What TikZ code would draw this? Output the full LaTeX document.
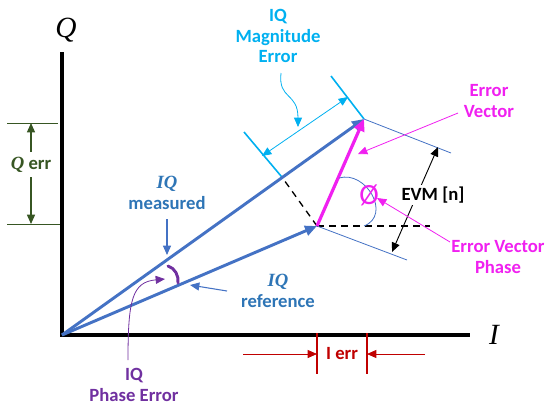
\documentclass[tikz,border=0pt]{standalone}
\usepackage{fontspec}
\setmainfont{Carlito}
\newfontfamily\serifit{Liberation Serif}
\usetikzlibrary{arrows.meta,calc}
\definecolor{vblue}{HTML}{4472C4}
\definecolor{lblue}{HTML}{2E75B6}
\definecolor{cyanc}{HTML}{00B0F0}
\definecolor{magc}{HTML}{F020F0}
\definecolor{purp}{HTML}{7030A0}
\definecolor{grn}{HTML}{375623}
\definecolor{redc}{HTML}{C00000}
\begin{document}
\begin{tikzpicture}[x=0.75pt,y=-0.75pt,
  lab/.style={font=\bfseries\fontsize{14}{15.5}\selectfont, align=center, inner sep=0pt},
  axislab/.style={font=\serifit\itshape\fontsize{22}{24}\selectfont, inner sep=0pt},
  vec/.style={draw=vblue, line width=2.2pt, -{Triangle[length=9pt,width=7.5pt]}},
  hair/.style={line width=0.6pt},
  tip/.style={-{Triangle[length=7pt,width=6pt]}},
  dtip/.style={{Triangle[length=7pt,width=6pt]}-{Triangle[length=7pt,width=6pt]}},
]
\useasboundingbox (0,0) rectangle (546,405);
\coordinate (O) at (62,335);
\coordinate (M) at (364,119);
\coordinate (R) at (317,226);
\coordinate (F) at ($(O)!(R)!(M)$);
\coordinate (Qtop) at (62,52);
\coordinate (Iend) at (470,335);

% axes
\draw[line width=3pt] (Qtop) -- (O) -- (Iend);
\node[axislab] (Q) at (66,30) {Q};
\node[axislab] (I) at (494,335) {I};

% magnitude error
\coordinate (Mt) at (331,76);
\coordinate (Ft) at (244,132);
\draw[cyanc, line width=1.2pt] (Mt) -- (M);
\draw[cyanc, line width=1.2pt] (Ft) -- (F);
\coordinate (D1) at (262,156);
\coordinate (D2) at (348,97);
\draw[cyanc, hair, dtip] (D1) -- (D2);
\node[lab, text=cyanc] (mag) at (278,36) {IQ\\Magnitude\\Error};
\coordinate (magc) at (281,73);
\coordinate (magtip) at (298,127);
\draw[cyanc, hair, tip] (magc) .. controls (278,100) and (298,92) .. (magtip);

% dashed construction lines
\coordinate (H) at (430,226);
\draw[line width=1pt, dash pattern=on 5pt off 4pt] (R) -- (F);
\draw[line width=1pt, dash pattern=on 5pt off 4pt] (R) -- (H);

% EVM extension lines
\coordinate (Me) at (451,153);
\coordinate (Re) at (407,260);
\draw[vblue, hair] (M) -- (Me);
\draw[vblue, hair] (R) -- (Re);

% vectors
\draw[vec] (O) -- (M);
\draw[vec] (O) -- (R);
\draw[magc, line width=2.4pt, -{Triangle[length=9pt,width=8pt]}] (R) -- (M);

% phase angle
\coordinate (A1) at (339,178);
\coordinate (A2) at (364,226);
\draw[vblue, hair] (A1) .. controls (366,170) and (392,215) .. (A2);
\node[text=magc, font=\fontsize{22}{22}\selectfont, inner sep=0pt] (phi) at (369,195) {Ø};

% EVM
\coordinate (E1) at (438,147);
\coordinate (E2) at (392,252);
\draw[line width=0.7pt, dtip] (E1) -- (E2);
\node[lab, fill=white, inner sep=1.5pt] (evm) at (433,195) {EVM [n]};

% error vector label
\node[lab, text=magc] (ev) at (489,101) {Error\\Vector};
\coordinate (evs) at (458,113);
\coordinate (evt) at (358,154);
\draw[magc, hair, tip] (evs) -- (evt);

% error vector phase
\node[lab, text=magc] (evp) at (498,257) {Error Vector\\Phase};
\coordinate (evps) at (450,242);
\coordinate (evpt) at (377,198);
\draw[magc, hair, tip] (evps) -- (evpt);

% IQ measured / reference labels
\node[lab, text=lblue] (meas) at (167,193) {{\serifit\itshape IQ}\\measured};
\coordinate (ms) at (167,219);
\coordinate (mt) at (167,255);
\draw[vblue, line width=0.8pt, tip] (ms) -- (mt);
\node[lab, text=lblue] (ref) at (278,291) {{\serifit\itshape IQ}\\reference};
\coordinate (rs) at (227,291);
\coordinate (rt) at (190,285);
\draw[vblue, line width=0.8pt, tip] (rs) -- (rt);

% IQ phase error
\coordinate (P1) at (168,266);
\coordinate (P2) at (178,283);
\draw[purp, line width=2.2pt, line cap=round] (P1) .. controls (175,268) and (179,276) .. (P2);
\node[lab, text=purp] (pe) at (134,385) {IQ\\Phase Error};
\coordinate (pes) at (128,360);
\coordinate (pet) at (165,279);
\draw[purp, hair, tip] (pes) .. controls (128,300) and (132,282) .. (pet);

% Q err
\coordinate (qa1) at (7,123);  \coordinate (qa2) at (58,123);
\coordinate (qb1) at (7,224);  \coordinate (qb2) at (60,224);
\draw[grn, hair] (qa1) -- (qa2);
\draw[grn, hair] (qb1) -- (qb2);
\node[lab, text=grn] (qerr) at (31,165) {{\serifit\itshape Q} err};
\coordinate (qs1) at (31,152); \coordinate (qt1) at (31,123);
\coordinate (qs2) at (31,177); \coordinate (qt2) at (31,224);
\draw[grn, line width=1pt, tip] (qs1) -- (qt1);
\draw[grn, line width=1pt, tip] (qs2) -- (qt2);

% I err
\coordinate (ia1) at (317,333); \coordinate (ia2) at (317,374);
\coordinate (ib1) at (367,333); \coordinate (ib2) at (367,374);
\draw[redc, line width=1pt] (ia1) -- (ia2);
\draw[redc, line width=1pt] (ib1) -- (ib2);
\node[lab, text=redc] (ierr) at (342,354) {I err};
\coordinate (is1) at (243,354);
\coordinate (is2) at (425,354);
\draw[redc, hair, tip] (is1) -- (ia1 |- is1);
\draw[redc, hair, tip] (is2) -- (ib1 |- is2);
\end{tikzpicture}
\end{document}
